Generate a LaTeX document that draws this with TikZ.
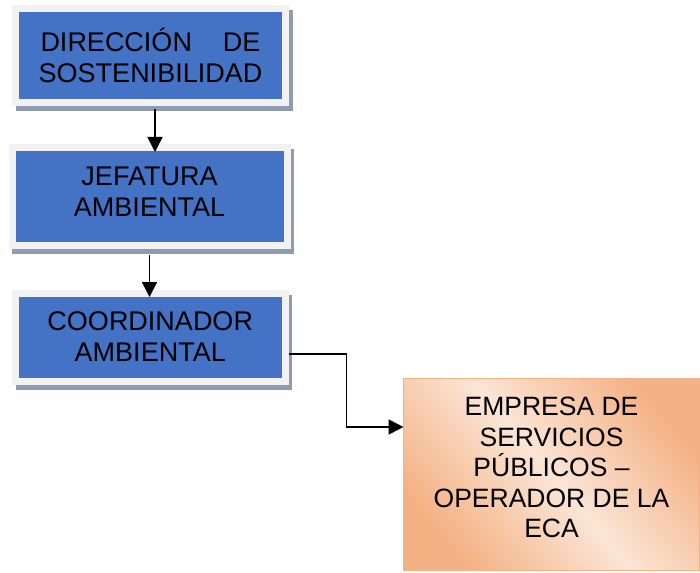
\documentclass[tikz,border=0pt]{standalone}
\usepackage{fontspec}
\setmainfont{Liberation Sans}
\usetikzlibrary{arrows.meta}
\definecolor{boxblue}{HTML}{4472C4}
\definecolor{framegray}{HTML}{F2F2F2}
\definecolor{shadowc}{HTML}{8E9BB2}
\definecolor{orangedark}{HTML}{F4B183}
\definecolor{orangelight}{HTML}{FBE5D6}
\tikzset{
  bluebox/.style={rectangle, fill=boxblue, draw=framegray, line width=7pt,
    outer sep=0pt, inner sep=0pt, align=center, text=black,
    font=\fontsize{27}{31}\selectfont,
    preaction={draw=shadowc, fill=shadowc, line width=7pt,
      transform canvas={shift={(3.5pt,-5pt)}}}},
  orangebox/.style={rectangle, draw=orangedark, line width=1.5pt,
    top color=orangedark, bottom color=orangedark, middle color=orangelight,
    shading angle=-50, outer sep=0pt, inner sep=0pt, align=center,
    font=\fontsize{26.5}{30.5}\selectfont},
  arr/.style={line width=1.5pt, -{Triangle[length=15pt,width=15pt]}}
}
\begin{document}
\begin{tikzpicture}[x=1pt,y=-1pt]
\useasboundingbox (0,0) rectangle (700,572);
\node[bluebox, minimum width=270pt, minimum height=94pt] (b1) at (150.5,55.5)
  {\makebox[220pt]{DIRECCIÓN\hfill DE}\\SOSTENIBILIDAD};
\node[bluebox, minimum width=275pt, minimum height=97pt] (b2) at (149.5,196.5)
  {JEFATURA\\AMBIENTAL\rule[-10pt]{0pt}{1pt}};
\node[bluebox, minimum width=269.5pt, minimum height=88pt] (b3) at (150.25,337)
  {COORDINADOR\\AMBIENTAL};
\node[orangebox, minimum width=296pt, minimum height=192pt] (b4) at (551.5,474.5)
  {EMPRESA DE\\SERVICIOS\\PÚBLICOS –\\OPERADOR DE LA\\ECA\rule[-14pt]{0pt}{1pt}};
\draw[arr] ([xshift=4.5pt,yshift=-7pt]b1.south) -- ([xshift=4.5pt,yshift=-4pt]b1.south |- b2.north);
\draw[arr] ([yshift=-10pt]b2.south) -- ([yshift=-4pt]b2.south |- b3.north);
\draw[line width=1.5pt] ([xshift=3.5pt,yshift=-17pt]b3.east) -- ++(58pt,0) coordinate (c1);
\draw[arr] (c1) |- ([yshift=47.5pt]b4.west);
\end{tikzpicture}
\end{document}
